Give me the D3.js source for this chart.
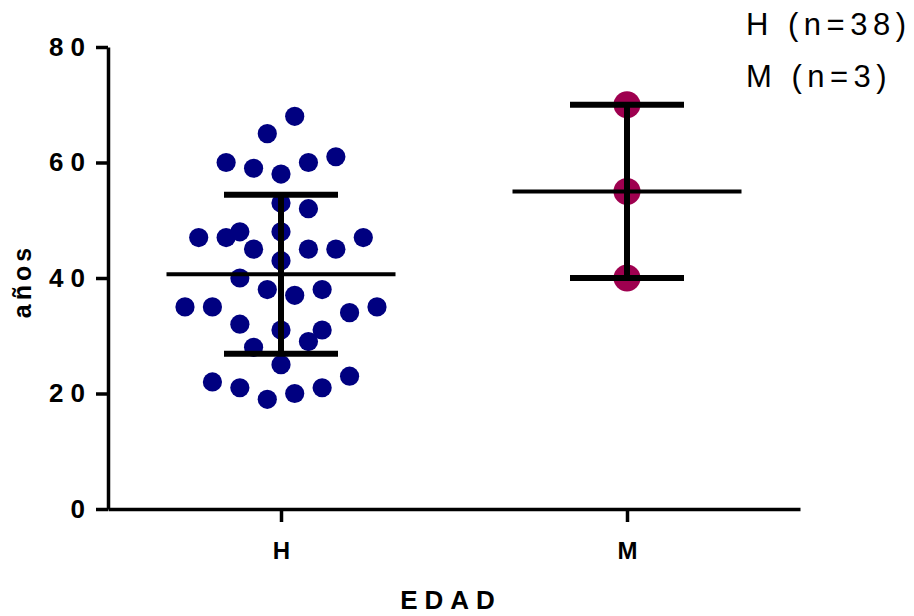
<!DOCTYPE html>
<html>
<head>
<meta charset="utf-8">
<script src="https://cdn.jsdelivr.net/npm/d3@7"></script>
<style>
  body { margin: 0; background: #fff; }
  text { font-family: Arial, "Liberation Sans", sans-serif; }
</style>
</head>
<body>
<svg id="chart" width="914" height="616"></svg>
<script>
// values
var categories = ["H", "M"];
var hValues = [68, 65, 60, 59, 58, 60, 61, 53, 52, 47, 47, 48, 48, 47, 45, 45, 45, 43, 40,
               38, 37, 38, 35, 35, 34, 35, 32, 31, 31, 29, 28, 25, 22, 21, 19, 20, 21, 23];
// column slot of each dot in the scatter (left/right of the centre)
var hSlots  = [1, -1, -4, -2, 0, 2, 4, 0, 2, -6, -4, -3, 0, 6, -2, 2, 4, 0, -3,
               -1, 1, 3, -7, -5, 5, 7, -3, 0, 3, 2, -2, 0, -5, -3, -1, 1, 3, 5];
var mValues = [70, 55, 40];
var mSlots  = [0, 0, 0];
var yTicks = [0, 20, 40, 60, 80];
var legendLabels = ["H (n=38)", "M (n=3)"];
var colors = ["#000080", "#9e004f"];

var groups = [
  {name: categories[0], values: hValues, slots: hSlots, color: colors[0], r: 9.6},
  {name: categories[1], values: mValues, slots: mSlots, color: colors[1], r: 13.5}
];

var svg = d3.select("#chart");

var x = d3.scalePoint().domain(categories).range([108, 800]).padding(0.5);
var y = d3.scaleLinear().domain([0, 80]).range([509, 47]);
var slot = d3.scaleLinear().domain([-7, 7]).range([-96, 96]);

// dots
groups.forEach(function(g){
  svg.append("g").selectAll("circle")
    .data(g.values)
    .enter()
    .append("circle")
      .attr("cx", function(d, i){ return x(g.name) + slot(g.slots[i]); })
      .attr("cy", function(d){ return y(d); })
      .attr("r", g.r)
      .style("fill", g.color);
});

// mean and SD bars
groups.forEach(function(g){
  var m = d3.mean(g.values), sd = d3.deviation(g.values), cx = x(g.name);
  var bar = svg.append("g").style("stroke", "#000");
  bar.append("line")
    .attr("x1", cx).attr("x2", cx)
    .attr("y1", y(m - sd)).attr("y2", y(m + sd))
    .style("stroke-width", 6);
  [m - sd, m + sd].forEach(function(v){
    bar.append("line")
      .attr("x1", cx - 57).attr("x2", cx + 57)
      .attr("y1", y(v)).attr("y2", y(v))
      .style("stroke-width", 6);
  });
  bar.append("line")
    .attr("x1", cx - 114.5).attr("x2", cx + 114.5)
    .attr("y1", y(m)).attr("y2", y(m))
    .style("stroke-width", 4);
});

// axes
var yAxis = svg.append("g")
  .attr("transform", "translate(108,0)")
  .call(d3.axisLeft(y).tickValues(yTicks).tickSize(12).tickSizeOuter(0).tickPadding(4));

var xAxis = svg.append("g")
  .attr("transform", "translate(0,509)")
  .call(d3.axisBottom(x).tickSize(13).tickSizeOuter(0).tickPadding(20));

[yAxis, xAxis].forEach(function(a){
  a.selectAll("path, line").style("stroke", "#000").style("stroke-width", 3.5);
  a.selectAll("text")
    .style("font-family", "Arial, 'Liberation Sans', sans-serif")
    .style("font-weight", "bold")
    .style("fill", "#000");
});
yAxis.selectAll("text").style("font-size", "26px").style("letter-spacing", "7px");
xAxis.selectAll("text").style("font-size", "24px");

// axis titles
svg.append("text")
  .attr("transform", "translate(31,281) rotate(-90)")
  .attr("text-anchor", "middle")
  .style("font-size", "25px")
  .style("font-weight", "bold")
  .style("letter-spacing", "4px")
  .text("años");

svg.append("text")
  .attr("x", 451).attr("y", 609)
  .attr("text-anchor", "middle")
  .style("font-size", "26px")
  .style("font-weight", "bold")
  .style("letter-spacing", "7px")
  .text("EDAD");

// legend
svg.selectAll(".legend")
  .data(legendLabels)
  .enter()
  .append("text")
    .attr("class", "legend")
    .attr("x", 746)
    .attr("y", function(d, i){ return 35 + i * 52; })
    .style("font-size", "31px")
    .style("letter-spacing", "5.5px")
    .text(function(d){ return d; });
</script>
</body>
</html>
